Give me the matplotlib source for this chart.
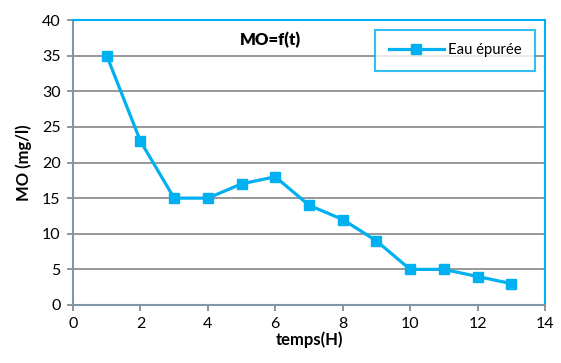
import matplotlib
matplotlib.use('Agg')
import matplotlib.pyplot as plt

plt.rcParams['font.family'] = ['Lato', 'DejaVu Sans']

temps = [1, 2, 3, 4, 5, 6, 7, 8, 9, 10, 11, 12, 13]
mo = [35, 23, 15, 15, 17, 18, 14, 12, 9, 5, 5, 4, 3]
xticks = [0, 2, 4, 6, 8, 10, 12, 14]
yticks = [0, 5, 10, 15, 20, 25, 30, 35, 40]

blue = '#00B0F0'
axis_c = '#7F97A6'

fig = plt.figure(figsize=(5.61, 3.63), dpi=100)
ax = fig.add_axes([73/561, 1-305/363, 472/561, 285/363])

ax.plot(temps, mo, color=blue, lw=2.3, marker='s', ms=7, label='Eau épurée', zorder=3)

ax.set_xlim(0, 14)
ax.set_ylim(0, 40)
ax.set_xticks(xticks)
ax.set_yticks(yticks)
ax.yaxis.grid(True, color='#868686', lw=1.2)
ax.set_axisbelow(True)

for s in ['top', 'right']:
    ax.spines[s].set_color(blue)
    ax.spines[s].set_linewidth(1.5)
for s in ['left', 'bottom']:
    ax.spines[s].set_color(axis_c)
    ax.spines[s].set_linewidth(1.5)
ax.tick_params(axis='both', direction='out', length=4, width=1.2, color='#808080',
               labelsize=11.5, labelcolor='black')
ax.tick_params(axis='x', pad=5)
ax.tick_params(axis='y', pad=5)

ax.text(197/472, 1-20/285, 'MO=f(t)', transform=ax.transAxes, ha='center', va='center',
        fontsize=12, fontweight='heavy')

ax.set_xlabel('temps(H)', fontsize=12, fontweight='bold', labelpad=0)
ax.set_ylabel('MO (mg/l)', fontsize=12, fontweight='bold', labelpad=7)

leg = ax.legend(loc='upper right', bbox_to_anchor=(462/472, 1-10/285), fontsize=10.7,
                frameon=True, fancybox=False, borderpad=0.9, handlelength=3.7,
                handletextpad=0.3, borderaxespad=0)
leg.get_frame().set_edgecolor(blue)
leg.get_frame().set_linewidth(1.5)

fig.savefig('out.png', dpi=100)
